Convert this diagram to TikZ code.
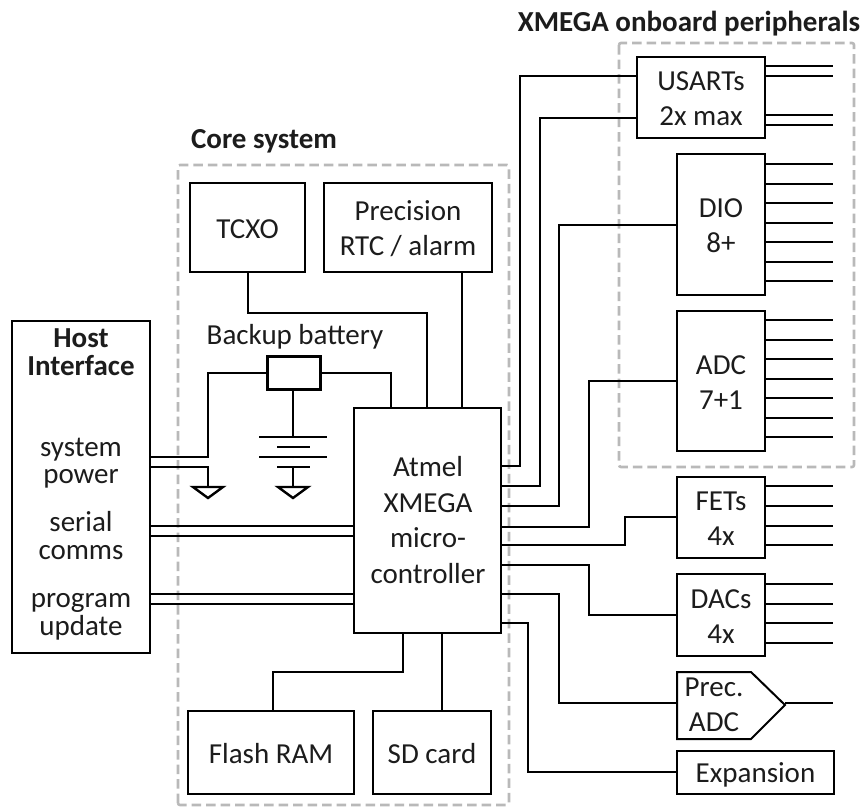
\documentclass[tikz,border=0pt]{standalone}
\usepackage{fontspec}
\setmainfont{Carlito}
\newcommand{\lstrut}{\rule[-3pt]{0pt}{27pt}}
\newcommand{\pbox}[6]{\node[box,minimum width={(#4-#2)*1pt},minimum height={(#5-#3)*1pt}] (#1) at ({(#2+#4)/2},{(#3+#5)/2}) {#6};}
\tikzset{
  box/.style={draw=black,line width=2pt,inner sep=0pt,align=center,text=ink,font=\fontsize{29}{35}\selectfont},
  lbl/.style={inner sep=0pt,anchor=base,text=ink,font=\fontsize{29}{30}\selectfont},
  head/.style={lbl,font=\fontsize{29}{30}\selectfont\bfseries},
  wire/.style={draw=black,line width=2pt},
  group/.style={draw=groupgray,line width=2.6pt,dash pattern=on 9.5pt off 5pt},
}
\definecolor{ink}{HTML}{1C1C1C}
\definecolor{groupgray}{HTML}{B9B9B9}
\begin{document}
\begin{tikzpicture}[x=1pt,y=-1pt]
\useasboundingbox (0,0) rectangle (867,806);
\fill[white] (0,0) rectangle (867,806);
% groups
\draw[group,rounded corners=2pt] (178,805) -- (178,165) -- (509,165) -- (509,805) -- cycle;
\draw[group,rounded corners=2pt] (619,43) rectangle (854,467);
\node[head] (coretitle) at (264,148) {Core system};
\node[head] (xmegatitle) at (689,31) {XMEGA onboard peripherals};
% boxes
\pbox{host}{12}{321}{150}{653}{}
\pbox{tcxo}{190}{183}{305}{272}{\lstrut TCXO}
\pbox{rtc}{324}{183}{492}{272}{\lstrut Precision\\\lstrut RTC / alarm}
\pbox{batbox}{268}{357}{320}{389}{}
\draw[wire,line width=2.8pt] (batbox.north west) rectangle (batbox.south east);
\pbox{mcu}{354}{408}{501}{633}{}
\pbox{flash}{188}{711}{354}{794}{\lstrut Flash RAM}
\pbox{sd}{373}{711}{491}{794}{\lstrut SD card}
\pbox{usart}{637}{57}{765}{138}{\lstrut USARTs\\\lstrut 2x max}
\pbox{dio}{677}{154}{765}{295}{\lstrut DIO\\\lstrut 8+}
\pbox{adc}{677}{311}{765}{451}{\lstrut ADC\\\lstrut 7+1}
\pbox{fets}{677}{477}{765}{558}{\lstrut FETs\\\lstrut 4x}
\pbox{dacs}{677}{574}{765}{656}{\lstrut DACs\\\lstrut 4x}
\pbox{expansion}{677}{751}{834}{794}{\lstrut Expansion}
% precision ADC pentagon
\coordinate (ptl) at (677,672);
\coordinate (ptip) at (785,705);
\draw[wire,line join=miter] (ptl) -- (751,672) -- (ptip) -- (751,739) -- (677,739) -- cycle;
% labels
\node[head] (h1) at (81,347) {Host};
\node[head] (h2) at (81,375) {Interface};
\node[lbl] (l1) at (81,456) {system};
\node[lbl] (l2) at (81,483) {power};
\node[lbl] (l3) at (81,531) {serial};
\node[lbl] (l4) at (81,559) {comms};
\node[lbl] (l5) at (81,607) {program};
\node[lbl] (l6) at (81,635) {update};
\node[lbl] (bb) at (295,344) {Backup battery};
\node[lbl] (m1) at (428,476) {Atmel};
\node[lbl] (m2) at (428,512) {XMEGA};
\node[lbl] (m3) at (428,547) {micro-};
\node[lbl] (m4) at (428,583) {controller};
\node[lbl] (p1) at (714,696) {Prec.};
\node[lbl] (p2) at (714,731) {ADC};
% core connectors
\draw[wire] (tcxo.south -| 248,0) |- (427,313) -- (mcu.north -| 427,0);
\draw[wire] (rtc.south -| 462,0) -- (mcu.north -| 462,0);
\draw[wire] (batbox.east) -| (mcu.north -| 391,0);
\draw[wire] (batbox.west) -| (208,457) -- (host.east |- 0,457);
\coordinate (g1) at (208,487);
\coordinate (g2) at (293,487);
\draw[wire] (host.east |- 0,467) -| (g1);
\draw[wire] (batbox.south -| g2) -- (293,437);
\draw[wire] (259,437) -- (327,437);
\draw[wire] (277,447) -- (310,447);
\draw[wire] (259,457) -- (327,457);
\draw[wire] (277,467) -- (310,467);
\draw[wire] (293,467) -- (g2);
\draw[wire,line width=2.4pt,line join=miter] ([xshift=-15pt]g1) -- ([xshift=15pt]g1) -- ([yshift=-11pt]g1) -- cycle;
\draw[wire,line width=2.4pt,line join=miter] ([xshift=-15pt]g2) -- ([xshift=15pt]g2) -- ([yshift=-11pt]g2) -- cycle;
\foreach \yy in {526,536,594,604} \draw[wire] (host.east |- 0,\yy) -- (mcu.west |- 0,\yy);
\draw[wire] (mcu.south -| 403,0) |- (273,672) -- (flash.north -| 273,0);
\draw[wire] (mcu.south -| 442,0) -- (sd.north -| 442,0);
% peripheral connectors
\draw[wire] (usart.west |- 0,76) -| (520,466) -- (mcu.east |- 0,466);
\draw[wire] (usart.west |- 0,118) -| (540,486) -- (mcu.east |- 0,486);
\draw[wire] (dio.west |- 0,225) -| (559,506) -- (mcu.east |- 0,506);
\draw[wire] (adc.west |- 0,381) -| (589,527) -- (mcu.east |- 0,527);
\draw[wire] (fets.west |- 0,517) -| (625,545) -- (mcu.east |- 0,545);
\draw[wire] (dacs.west |- 0,615) -| (589,565) -- (mcu.east |- 0,565);
\draw[wire] (ptl |- 0,703) -| (559,594) -- (mcu.east |- 0,594);
\draw[wire] (expansion.west |- 0,772) -| (528,623) -- (mcu.east |- 0,623);
% outputs
\foreach \yy in {66,76,115,125} \draw[wire] (usart.east |- 0,\yy) -- (833,\yy);
\foreach \yy in {164,184,203,223,242,262,281} \draw[wire] (dio.east |- 0,\yy) -- (833,\yy);
\foreach \yy in {320,340,359,379,398,418,437} \draw[wire] (adc.east |- 0,\yy) -- (833,\yy);
\foreach \yy in {486,506,526,545} \draw[wire] (fets.east |- 0,\yy) -- (833,\yy);
\foreach \yy in {584,604,623,643} \draw[wire] (dacs.east |- 0,\yy) -- (833,\yy);
\draw[wire] (ptip |- 0,703) -- (833,703);
\end{tikzpicture}
\end{document}
